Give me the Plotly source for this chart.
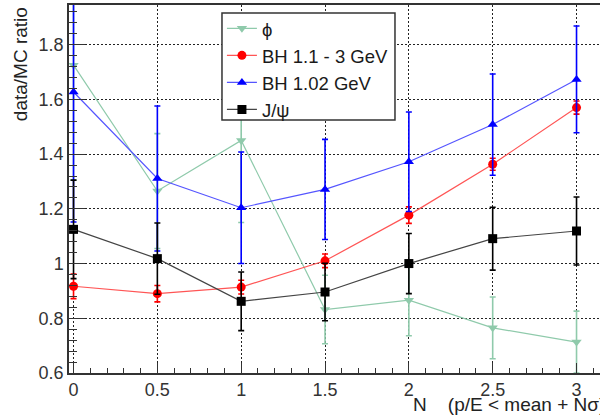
import plotly.graph_objects as go

# ---- data ----
n_sigma = [0, 0.5, 1, 1.5, 2, 2.5, 3]

phi_y = [1.725, 1.265, 1.45, 0.832, 0.866, 0.765, 0.713]
phi_err = [0.42, 0.21, 0.30, 0.125, 0.13, 0.113, 0.113]

bh13_y = [0.917, 0.89, 0.914, 1.01, 1.177, 1.363, 1.570]
bh13_err = [0.045, 0.03, 0.025, 0.025, 0.03, 0.022, 0.024]

bh102_y = [1.627, 1.311, 1.204, 1.271, 1.372, 1.508, 1.673]
bh102_err = [0.475, 0.265, 0.204, 0.183, 0.182, 0.185, 0.195]

jpsi_y = [1.125, 1.018, 0.862, 0.896, 1.0, 1.091, 1.119]
jpsi_err = [0.18, 0.13, 0.107, 0.105, 0.11, 0.115, 0.124]

x_ticks = [0, 0.5, 1, 1.5, 2, 2.5, 3]
x_ticklabels = ["0", "0.5", "1", "1.5", "2", "2.5", "3"]
y_ticks = [0.6, 0.8, 1.0, 1.2, 1.4, 1.6, 1.8]
y_ticklabels = ["0.6", "0.8", "1", "1.2", "1.4", "1.6", "1.8"]

series = [
    ("ϕ", phi_y, phi_err, "#8fcaab", "#8fcaab", "triangle-down"),
    ("BH 1.1 - 3 GeV", bh13_y, bh13_err, "#ff0000", "#ff5555", "circle"),
    ("BH 1.02 GeV", bh102_y, bh102_err, "#0000ff", "#5555ff", "triangle-up"),
    ("J/ψ", jpsi_y, jpsi_err, "#000000", "#444444", "square"),
]

FONT = "Liberation Sans, Arial, Helvetica, sans-serif"

fig = go.Figure()
for name, ys, errs, col, lcol, sym in series:
    fig.add_trace(go.Scatter(
        x=n_sigma, y=ys, name=name, mode="lines+markers",
        line=dict(color=lcol, width=1.2),
        marker=dict(color=col, symbol=sym, size=9, line=dict(width=0)),
        error_y=dict(type="data", array=errs, visible=True,
                     color=col, thickness=1.6, width=3),
    ))

fig.update_layout(
    width=600, height=416,
    margin=dict(l=69, r=0, t=5, b=43, autoexpand=False),
    paper_bgcolor="white", plot_bgcolor="white",
    font=dict(family=FONT, size=18, color="#333333"),
    showlegend=True,
    legend=dict(
        x=0.288, y=0.987, xanchor="left", yanchor="top",
        bgcolor="rgba(0,0,0,0)", borderwidth=0,
        font=dict(family=FONT, size=18.5, color="#1a1a1a"),
        tracegroupgap=0, itemwidth=30,
    ),
    shapes=[
        dict(type="rect", xref="paper", yref="paper",
             x0=0.2881, x1=0.6139, y0=0.6875, y1=0.9783,
             fillcolor="white", line=dict(color="#333333", width=1.5),
             layer="above"),
    ],
    xaxis=dict(
        range=[-0.027, 3.14], automargin=False,
        tickvals=x_ticks, ticktext=x_ticklabels,
        ticks="inside", ticklen=10, tickwidth=1, tickcolor="#333333",
        showline=True, linecolor="#333333", linewidth=1.5, mirror=True,
        showgrid=True, gridcolor="#222222", gridwidth=1, griddash="2px,2px",
        zeroline=False,
        minor=dict(tick0=0, dtick=0.1, ticks="inside", ticklen=5,
                   tickcolor="#333333", showgrid=False),
        tickfont=dict(size=18, color="#333333"),
    ),
    yaxis=dict(
        range=[0.6, 1.945], automargin=False,
        tickvals=y_ticks, ticktext=y_ticklabels,
        ticks="inside", ticklen=16, tickwidth=1, tickcolor="#333333",
        showline=True, linecolor="#333333", linewidth=1.5, mirror=True,
        showgrid=True, gridcolor="#222222", gridwidth=1, griddash="2px,2px",
        zeroline=False,
        minor=dict(tick0=0.6, dtick=0.04, ticks="inside", ticklen=8,
                   tickcolor="#333333", showgrid=False),
        tickfont=dict(size=18, color="#333333"),
    ),
    annotations=[
        dict(text="data/MC ratio", textangle=-90, xref="paper", yref="paper",
             x=-0.092, y=1.0, xanchor="center", yanchor="top", showarrow=False,
             font=dict(family=FONT, size=19, color="#222222")),
        dict(text="N\u00a0\u00a0\u00a0\u00a0(p/E < mean + Nσ)", xref="paper", yref="paper",
             x=0.644, y=-0.085, xanchor="left", yanchor="middle", showarrow=False,
             font=dict(family=FONT, size=19, color="#222222")),
    ],
)

fig.write_html(
    "out.html",
    config={"displayModeBar": False},
    post_script="document.body.style.margin='0';document.body.style.padding='0';",
)
